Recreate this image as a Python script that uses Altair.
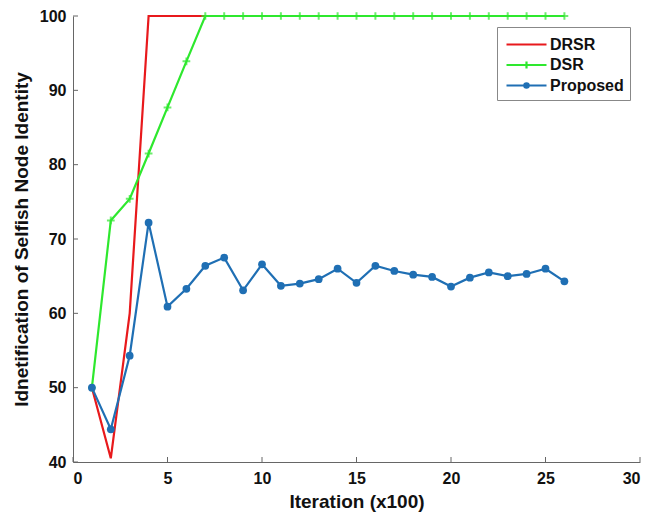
import altair as alt
import pandas as pd

iterations = list(range(1, 27))
drsr = [50, 40.5, 60, 100] + [100] * 22
dsr = [50, 72.5, 75.4, 81.5, 87.7, 93.9] + [100] * 20
proposed = [50, 44.4, 54.3, 72.2, 60.9, 63.3, 66.4, 67.5, 63.1, 66.6, 63.7, 64.0,
            64.6, 66.0, 64.1, 66.4, 65.7, 65.2, 64.9, 63.6, 64.8, 65.5, 65.0,
            65.3, 66.0, 64.3]
series_names = ["DRSR", "DSR", "Proposed"]
series_colors = ["#e8191c", "#2ee82e", "#1f6fb4"]
x_ticks = [0, 5, 10, 15, 20, 25, 30]
y_ticks = [40, 50, 60, 70, 80, 90, 100]

rows = []
for name, vals in zip(series_names, [drsr, dsr, proposed]):
    for it, v in zip(iterations, vals):
        rows.append({"Iteration": it, "Value": v, "Series": name})
df = pd.DataFrame(rows)

W, H = 567, 446
FONT = "Liberation Sans"

xs = alt.Scale(domain=[0, 30], nice=False)
ys = alt.Scale(domain=[40, 100], nice=False)

base = alt.Chart(df)

shape_expr = ("datum.value == 'DSR' ? 'M-2,0L2,0M0,-0.35L0,0.35' : "
              "(datum.value == 'Proposed' ? "
              "'M-2,0L2,0M-0.22,0a0.22,0.22 0 1,0 0.44,0a0.22,0.22 0 1,0 -0.44,0' : "
              "'M-2,0L2,0')")

lines = base.mark_line(strokeWidth=2.2).encode(
    x=alt.X("Iteration:Q", scale=xs, title="Iteration (x100)",
            axis=alt.Axis(values=x_ticks, grid=False, tickSize=0, labelPadding=8,
                          titlePadding=6)),
    y=alt.Y("Value:Q", scale=ys, title="Idnetification of Selfish Node Identity",
            axis=alt.Axis(values=y_ticks, grid=False, tickSize=0, labelPadding=7,
                          titlePadding=8)),
    color=alt.Color("Series:N",
                    scale=alt.Scale(domain=series_names, range=series_colors),
                    legend=alt.Legend(title=None, orient="none", legendX=424, legendY=11,
                                      strokeColor="#888", fillColor="white",
                                      padding=6, symbolType=alt.ExprRef(shape_expr),
                                      symbolSize=400, symbolOffset=12,
                                      symbolStrokeWidth=2.2, labelFontSize=16,
                                      labelFontWeight="bold", labelFont=FONT,
                                      labelColor="#111", rowPadding=0.5, labelOffset=12)),
)

dsr_pts = base.transform_filter(alt.datum.Series == "DSR").mark_point(
    shape="M-1,0L1,0M0,-1L0,1", filled=False, strokeWidth=2, size=60, color="#2ee82e"
).encode(x=alt.X("Iteration:Q", scale=xs), y=alt.Y("Value:Q", scale=ys))

prop_pts = base.transform_filter(alt.datum.Series == "Proposed").mark_point(
    shape="circle", filled=True, size=60, opacity=1, color="#1f6fb4"
).encode(x=alt.X("Iteration:Q", scale=xs), y=alt.Y("Value:Q", scale=ys))

xt = pd.DataFrame({"t": x_ticks})
yt = pd.DataFrame({"t": y_ticks})
x_tick_marks = alt.Chart(xt).mark_rule(color="#666", strokeWidth=1).encode(
    x=alt.X("t:Q", scale=xs), y=alt.value(H), y2=alt.value(H - 5))
y_tick_marks = alt.Chart(yt).mark_rule(color="#666", strokeWidth=1).encode(
    y=alt.Y("t:Q", scale=ys), x=alt.value(0), x2=alt.value(5))

chart = alt.layer(lines, dsr_pts, prop_pts, x_tick_marks, y_tick_marks).properties(
    width=W, height=H,
    autosize=alt.AutoSizeParams(type="none"),
    padding={"left": 65, "top": 8, "right": 6, "bottom": 57},
).configure_view(stroke=None).configure_axis(
    domainColor="#666", labelFont=FONT, labelFontSize=16, labelFontWeight="bold",
    labelColor="#111", titleFont=FONT, titleFontSize=19, titleFontWeight="bold",
    titleColor="#111"
)

chart.save("out.html", embed_options={"renderer": "svg", "actions": False})
